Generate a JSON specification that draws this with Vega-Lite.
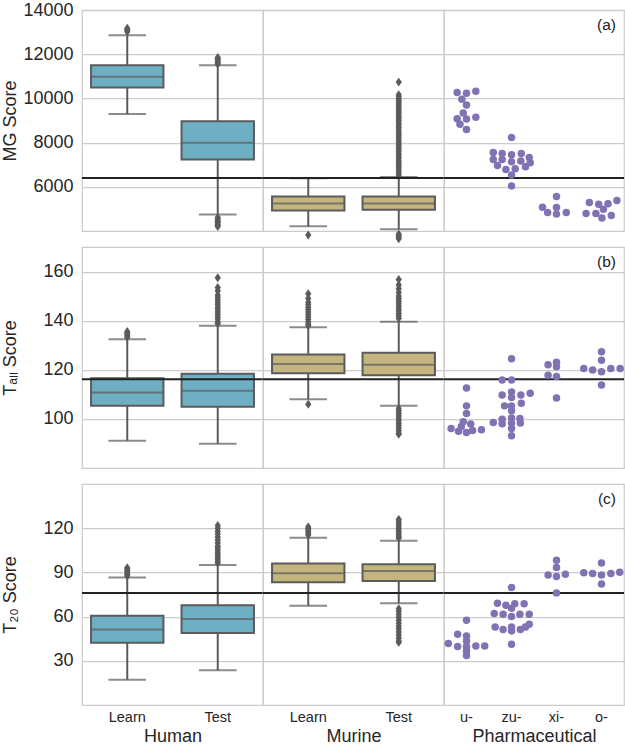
{
"$schema": "https://vega.github.io/schema/vega-lite/v6.json",
"padding": {"left": 0, "top": 0, "right": 0, "bottom": 0},
"background": "white",
"datasets": {
"box": [
{"m":"MG","g":"Human","set":"Learn","lo":9298,"q1":10494,"med":10988,"q3":11501,"hi":12862},
{"m":"MG","g":"Human","set":"Test","lo":4760,"q1":7245,"med":7995,"q3":8966,"hi":11501},
{"m":"MG","g":"Murine","set":"Learn","lo":4220,"q1":4939,"med":5254,"q3":5568,"hi":6391},
{"m":"MG","g":"Murine","set":"Test","lo":4085,"q1":4966,"med":5254,"q3":5568,"hi":6449},
{"m":"Tall","g":"Human","set":"Learn","lo":91.1,"q1":105.3,"med":110.7,"q3":116.5,"hi":132.4},
{"m":"Tall","g":"Human","set":"Test","lo":89.9,"q1":104.9,"med":111.5,"q3":118.4,"hi":137.9},
{"m":"Tall","g":"Murine","set":"Learn","lo":108.0,"q1":118.6,"med":122.4,"q3":126.2,"hi":137.3},
{"m":"Tall","g":"Murine","set":"Test","lo":105.3,"q1":117.8,"med":122.0,"q3":126.9,"hi":139.6},
{"m":"T20","g":"Human","set":"Learn","lo":17.2,"q1":42.2,"med":51.2,"q3":60.5,"hi":86.5},
{"m":"T20","g":"Human","set":"Test","lo":23.6,"q1":48.9,"med":58.4,"q3":67.7,"hi":95.1},
{"m":"T20","g":"Murine","set":"Learn","lo":67.3,"q1":83.3,"med":89.4,"q3":96.0,"hi":113.6},
{"m":"T20","g":"Murine","set":"Test","lo":69.1,"q1":84.2,"med":91.0,"q3":95.6,"hi":111.4}
],
"fl": [
{"m":"MG","g":"Human","set":"Learn","v":13020},{"m":"MG","g":"Human","set":"Learn","v":13080},{"m":"MG","g":"Human","set":"Learn","v":13130},{"m":"MG","g":"Human","set":"Learn","v":13180},
{"m":"MG","g":"Human","set":"Test","v":11560},{"m":"MG","g":"Human","set":"Test","v":11620},{"m":"MG","g":"Human","set":"Test","v":11680},{"m":"MG","g":"Human","set":"Test","v":11740},{"m":"MG","g":"Human","set":"Test","v":11800},{"m":"MG","g":"Human","set":"Test","v":11850},
{"m":"MG","g":"Human","set":"Test","v":4620},{"m":"MG","g":"Human","set":"Test","v":4560},{"m":"MG","g":"Human","set":"Test","v":4500},{"m":"MG","g":"Human","set":"Test","v":4440},{"m":"MG","g":"Human","set":"Test","v":4380},{"m":"MG","g":"Human","set":"Test","v":4320},{"m":"MG","g":"Human","set":"Test","v":4260},{"m":"MG","g":"Human","set":"Test","v":4210},
{"m":"MG","g":"Murine","set":"Learn","v":3830},
{"m":"MG","g":"Murine","set":"Test","v":10740},{"m":"MG","g":"Murine","set":"Test","v":10170},{"m":"MG","g":"Murine","set":"Test","v":10080},{"m":"MG","g":"Murine","set":"Test","v":9990},{"m":"MG","g":"Murine","set":"Test","v":9900},{"m":"MG","g":"Murine","set":"Test","v":9810},{"m":"MG","g":"Murine","set":"Test","v":9720},{"m":"MG","g":"Murine","set":"Test","v":9630},{"m":"MG","g":"Murine","set":"Test","v":9540},{"m":"MG","g":"Murine","set":"Test","v":9450},{"m":"MG","g":"Murine","set":"Test","v":9360},{"m":"MG","g":"Murine","set":"Test","v":9270},{"m":"MG","g":"Murine","set":"Test","v":9180},{"m":"MG","g":"Murine","set":"Test","v":9090},{"m":"MG","g":"Murine","set":"Test","v":9000},{"m":"MG","g":"Murine","set":"Test","v":8900},{"m":"MG","g":"Murine","set":"Test","v":8800},{"m":"MG","g":"Murine","set":"Test","v":8700},{"m":"MG","g":"Murine","set":"Test","v":8600},{"m":"MG","g":"Murine","set":"Test","v":8500},{"m":"MG","g":"Murine","set":"Test","v":8400},{"m":"MG","g":"Murine","set":"Test","v":8300},{"m":"MG","g":"Murine","set":"Test","v":8200},{"m":"MG","g":"Murine","set":"Test","v":8100},{"m":"MG","g":"Murine","set":"Test","v":8000},{"m":"MG","g":"Murine","set":"Test","v":7900},{"m":"MG","g":"Murine","set":"Test","v":7800},{"m":"MG","g":"Murine","set":"Test","v":7700},{"m":"MG","g":"Murine","set":"Test","v":7600},{"m":"MG","g":"Murine","set":"Test","v":7500},{"m":"MG","g":"Murine","set":"Test","v":7400},{"m":"MG","g":"Murine","set":"Test","v":7300},{"m":"MG","g":"Murine","set":"Test","v":7200},{"m":"MG","g":"Murine","set":"Test","v":7100},{"m":"MG","g":"Murine","set":"Test","v":7000},{"m":"MG","g":"Murine","set":"Test","v":6900},{"m":"MG","g":"Murine","set":"Test","v":6800},{"m":"MG","g":"Murine","set":"Test","v":6700},{"m":"MG","g":"Murine","set":"Test","v":6600},{"m":"MG","g":"Murine","set":"Test","v":6500},
{"m":"MG","g":"Murine","set":"Test","v":3870},{"m":"MG","g":"Murine","set":"Test","v":3800},{"m":"MG","g":"Murine","set":"Test","v":3730},{"m":"MG","g":"Murine","set":"Test","v":3660},
{"m":"Tall","g":"Human","set":"Learn","v":133.2},{"m":"Tall","g":"Human","set":"Learn","v":133.8},{"m":"Tall","g":"Human","set":"Learn","v":134.4},{"m":"Tall","g":"Human","set":"Learn","v":135.0},{"m":"Tall","g":"Human","set":"Learn","v":135.6},
{"m":"Tall","g":"Human","set":"Test","v":157.5},{"m":"Tall","g":"Human","set":"Test","v":153.5},{"m":"Tall","g":"Human","set":"Test","v":152.2},{"m":"Tall","g":"Human","set":"Test","v":150.5},{"m":"Tall","g":"Human","set":"Test","v":149.5},{"m":"Tall","g":"Human","set":"Test","v":148.5},{"m":"Tall","g":"Human","set":"Test","v":147.5},{"m":"Tall","g":"Human","set":"Test","v":146.5},{"m":"Tall","g":"Human","set":"Test","v":145.5},{"m":"Tall","g":"Human","set":"Test","v":144.5},{"m":"Tall","g":"Human","set":"Test","v":143.5},{"m":"Tall","g":"Human","set":"Test","v":142.5},{"m":"Tall","g":"Human","set":"Test","v":141.5},{"m":"Tall","g":"Human","set":"Test","v":140.5},{"m":"Tall","g":"Human","set":"Test","v":139.5},{"m":"Tall","g":"Human","set":"Test","v":138.7},
{"m":"Tall","g":"Murine","set":"Learn","v":151},{"m":"Tall","g":"Murine","set":"Learn","v":149},{"m":"Tall","g":"Murine","set":"Learn","v":147.5},{"m":"Tall","g":"Murine","set":"Learn","v":146.5},{"m":"Tall","g":"Murine","set":"Learn","v":145.5},{"m":"Tall","g":"Murine","set":"Learn","v":144.5},{"m":"Tall","g":"Murine","set":"Learn","v":143.5},{"m":"Tall","g":"Murine","set":"Learn","v":142.5},{"m":"Tall","g":"Murine","set":"Learn","v":141.5},{"m":"Tall","g":"Murine","set":"Learn","v":140.5},{"m":"Tall","g":"Murine","set":"Learn","v":139.5},{"m":"Tall","g":"Murine","set":"Learn","v":138.5},{"m":"Tall","g":"Murine","set":"Learn","v":137.9},{"m":"Tall","g":"Murine","set":"Learn","v":106.0},
{"m":"Tall","g":"Murine","set":"Test","v":156.8},{"m":"Tall","g":"Murine","set":"Test","v":154.5},{"m":"Tall","g":"Murine","set":"Test","v":153},{"m":"Tall","g":"Murine","set":"Test","v":151.5},{"m":"Tall","g":"Murine","set":"Test","v":150},{"m":"Tall","g":"Murine","set":"Test","v":149},{"m":"Tall","g":"Murine","set":"Test","v":148},{"m":"Tall","g":"Murine","set":"Test","v":147},{"m":"Tall","g":"Murine","set":"Test","v":146},{"m":"Tall","g":"Murine","set":"Test","v":145},{"m":"Tall","g":"Murine","set":"Test","v":144},{"m":"Tall","g":"Murine","set":"Test","v":143},{"m":"Tall","g":"Murine","set":"Test","v":142},{"m":"Tall","g":"Murine","set":"Test","v":141},
{"m":"Tall","g":"Murine","set":"Test","v":104.2},{"m":"Tall","g":"Murine","set":"Test","v":103.2},{"m":"Tall","g":"Murine","set":"Test","v":102.2},{"m":"Tall","g":"Murine","set":"Test","v":101.2},{"m":"Tall","g":"Murine","set":"Test","v":100.2},{"m":"Tall","g":"Murine","set":"Test","v":99.2},{"m":"Tall","g":"Murine","set":"Test","v":98.2},{"m":"Tall","g":"Murine","set":"Test","v":97.2},{"m":"Tall","g":"Murine","set":"Test","v":96.2},{"m":"Tall","g":"Murine","set":"Test","v":95.2},{"m":"Tall","g":"Murine","set":"Test","v":94.2},{"m":"Tall","g":"Murine","set":"Test","v":93.7},
{"m":"T20","g":"Human","set":"Learn","v":87.5},{"m":"T20","g":"Human","set":"Learn","v":88.5},{"m":"T20","g":"Human","set":"Learn","v":89.5},{"m":"T20","g":"Human","set":"Learn","v":90.5},{"m":"T20","g":"Human","set":"Learn","v":91.5},{"m":"T20","g":"Human","set":"Learn","v":92.5},{"m":"T20","g":"Human","set":"Learn","v":93.1},
{"m":"T20","g":"Human","set":"Test","v":121.9},{"m":"T20","g":"Human","set":"Test","v":120},{"m":"T20","g":"Human","set":"Test","v":118},{"m":"T20","g":"Human","set":"Test","v":116},{"m":"T20","g":"Human","set":"Test","v":114},{"m":"T20","g":"Human","set":"Test","v":112},{"m":"T20","g":"Human","set":"Test","v":110},{"m":"T20","g":"Human","set":"Test","v":108},{"m":"T20","g":"Human","set":"Test","v":106.5},{"m":"T20","g":"Human","set":"Test","v":105},{"m":"T20","g":"Human","set":"Test","v":103.5},{"m":"T20","g":"Human","set":"Test","v":102},{"m":"T20","g":"Human","set":"Test","v":100.5},{"m":"T20","g":"Human","set":"Test","v":99},{"m":"T20","g":"Human","set":"Test","v":97.5},{"m":"T20","g":"Human","set":"Test","v":96.4},
{"m":"T20","g":"Murine","set":"Learn","v":115.4},{"m":"T20","g":"Murine","set":"Learn","v":116.6},{"m":"T20","g":"Murine","set":"Learn","v":117.8},{"m":"T20","g":"Murine","set":"Learn","v":119},{"m":"T20","g":"Murine","set":"Learn","v":120},{"m":"T20","g":"Murine","set":"Learn","v":120.9},
{"m":"T20","g":"Murine","set":"Test","v":126},{"m":"T20","g":"Murine","set":"Test","v":124.5},{"m":"T20","g":"Murine","set":"Test","v":123},{"m":"T20","g":"Murine","set":"Test","v":121.5},{"m":"T20","g":"Murine","set":"Test","v":120},{"m":"T20","g":"Murine","set":"Test","v":118.5},{"m":"T20","g":"Murine","set":"Test","v":117},{"m":"T20","g":"Murine","set":"Test","v":115.5},{"m":"T20","g":"Murine","set":"Test","v":114},{"m":"T20","g":"Murine","set":"Test","v":113.4},
{"m":"T20","g":"Murine","set":"Test","v":65.4},{"m":"T20","g":"Murine","set":"Test","v":63.5},{"m":"T20","g":"Murine","set":"Test","v":61.5},{"m":"T20","g":"Murine","set":"Test","v":59.5},{"m":"T20","g":"Murine","set":"Test","v":57.5},{"m":"T20","g":"Murine","set":"Test","v":55.5},{"m":"T20","g":"Murine","set":"Test","v":53.5},{"m":"T20","g":"Murine","set":"Test","v":51.5},{"m":"T20","g":"Murine","set":"Test","v":49.5},{"m":"T20","g":"Murine","set":"Test","v":47.5},{"m":"T20","g":"Murine","set":"Test","v":45.5},{"m":"T20","g":"Murine","set":"Test","v":43.5},{"m":"T20","g":"Murine","set":"Test","v":42.5}
],
"ph": [
{"m":"MG","c":"u-","o":-2,"v":10271},{"m":"MG","c":"u-","o":0,"v":10241},{"m":"MG","c":"u-","o":2,"v":10331},{"m":"MG","c":"u-","o":-1,"v":9971},{"m":"MG","c":"u-","o":0,"v":9702},{"m":"MG","c":"u-","o":-0.7,"v":9342},{"m":"MG","c":"u-","o":-2,"v":9087},{"m":"MG","c":"u-","o":0,"v":9073},{"m":"MG","c":"u-","o":2,"v":9147},{"m":"MG","c":"u-","o":-1.4,"v":8832},{"m":"MG","c":"u-","o":0,"v":8593},
{"m":"MG","c":"zu-","o":0,"v":8234},{"m":"MG","c":"zu-","o":-3.9,"v":7559},{"m":"MG","c":"zu-","o":-2,"v":7514},{"m":"MG","c":"zu-","o":0,"v":7455},{"m":"MG","c":"zu-","o":2.1,"v":7514},{"m":"MG","c":"zu-","o":3.8,"v":7335},{"m":"MG","c":"zu-","o":-3.9,"v":7245},{"m":"MG","c":"zu-","o":-2,"v":7245},{"m":"MG","c":"zu-","o":0,"v":7140},{"m":"MG","c":"zu-","o":2,"v":7170},{"m":"MG","c":"zu-","o":4,"v":7095},{"m":"MG","c":"zu-","o":-3,"v":6975},{"m":"MG","c":"zu-","o":-1.2,"v":6795},{"m":"MG","c":"zu-","o":0.8,"v":6825},{"m":"MG","c":"zu-","o":3,"v":6915},{"m":"MG","c":"zu-","o":0,"v":6541},{"m":"MG","c":"zu-","o":0,"v":6046},
{"m":"MG","c":"xi-","o":0,"v":5567},{"m":"MG","c":"xi-","o":-3,"v":5088},{"m":"MG","c":"xi-","o":0,"v":5073},{"m":"MG","c":"xi-","o":-1.9,"v":4848},{"m":"MG","c":"xi-","o":0,"v":4773},{"m":"MG","c":"xi-","o":2.1,"v":4848},
{"m":"MG","c":"o-","o":-2.6,"v":5298},{"m":"MG","c":"o-","o":-0.6,"v":5223},{"m":"MG","c":"o-","o":1.4,"v":5238},{"m":"MG","c":"o-","o":3.3,"v":5387},{"m":"MG","c":"o-","o":0.4,"v":4998},{"m":"MG","c":"o-","o":-3.3,"v":4803},{"m":"MG","c":"o-","o":-1.2,"v":4803},{"m":"MG","c":"o-","o":2.1,"v":4713},{"m":"MG","c":"o-","o":0.1,"v":4593},
{"m":"Tall","c":"u-","o":0,"v":112.6},{"m":"Tall","c":"u-","o":0,"v":105.3},{"m":"Tall","c":"u-","o":0,"v":102.2},{"m":"Tall","c":"u-","o":-0.7,"v":98.8},{"m":"Tall","c":"u-","o":0.9,"v":97.9},{"m":"Tall","c":"u-","o":-3.3,"v":96.1},{"m":"Tall","c":"u-","o":-1.7,"v":95.0},{"m":"Tall","c":"u-","o":0,"v":94.5},{"m":"Tall","c":"u-","o":1.3,"v":95.3},{"m":"Tall","c":"u-","o":3.2,"v":95.6},{"m":"Tall","c":"u-","o":-1.1,"v":96.9},
{"m":"Tall","c":"zu-","o":0,"v":124.5},{"m":"Tall","c":"zu-","o":-2,"v":115.8},{"m":"Tall","c":"zu-","o":0,"v":115.8},{"m":"Tall","c":"zu-","o":-2,"v":109.7},{"m":"Tall","c":"zu-","o":0,"v":111.0},{"m":"Tall","c":"zu-","o":0,"v":108.7},{"m":"Tall","c":"zu-","o":2,"v":109.7},{"m":"Tall","c":"zu-","o":4,"v":110.4},{"m":"Tall","c":"zu-","o":-1.5,"v":105.3},{"m":"Tall","c":"zu-","o":0,"v":105.3},{"m":"Tall","c":"zu-","o":2.1,"v":106.4},{"m":"Tall","c":"zu-","o":0,"v":103.3},{"m":"Tall","c":"zu-","o":-2,"v":99.9},{"m":"Tall","c":"zu-","o":0,"v":100.4},{"m":"Tall","c":"zu-","o":1.8,"v":100.2},{"m":"Tall","c":"zu-","o":-3.9,"v":98.5},{"m":"Tall","c":"zu-","o":-2,"v":98.0},{"m":"Tall","c":"zu-","o":0,"v":98.3},{"m":"Tall","c":"zu-","o":1.9,"v":98.3},{"m":"Tall","c":"zu-","o":0,"v":96.1},{"m":"Tall","c":"zu-","o":0,"v":93.1},
{"m":"Tall","c":"xi-","o":-1.8,"v":122.0},{"m":"Tall","c":"xi-","o":0,"v":123.1},{"m":"Tall","c":"xi-","o":0,"v":121.2},{"m":"Tall","c":"xi-","o":-1.8,"v":117.8},{"m":"Tall","c":"xi-","o":0,"v":117.3},{"m":"Tall","c":"xi-","o":0,"v":108.5},
{"m":"Tall","c":"o-","o":0,"v":127.3},{"m":"Tall","c":"o-","o":0,"v":123.9},{"m":"Tall","c":"o-","o":-3.8,"v":120.5},{"m":"Tall","c":"o-","o":-1.9,"v":119.9},{"m":"Tall","c":"o-","o":0,"v":119.2},{"m":"Tall","c":"o-","o":2,"v":120.5},{"m":"Tall","c":"o-","o":4,"v":120.5},{"m":"Tall","c":"o-","o":0,"v":113.8},
{"m":"T20","c":"u-","o":0,"v":57.5},{"m":"T20","c":"u-","o":-1.9,"v":48.0},{"m":"T20","c":"u-","o":0,"v":46.9},{"m":"T20","c":"u-","o":0,"v":43.5},{"m":"T20","c":"u-","o":-3.9,"v":41.7},{"m":"T20","c":"u-","o":-1.9,"v":39.7},{"m":"T20","c":"u-","o":0,"v":39.7},{"m":"T20","c":"u-","o":2,"v":40.1},{"m":"T20","c":"u-","o":3.9,"v":40.1},{"m":"T20","c":"u-","o":0,"v":36.7},{"m":"T20","c":"u-","o":0,"v":33.6},
{"m":"T20","c":"zu-","o":0,"v":79.7},{"m":"T20","c":"zu-","o":-3,"v":69.1},{"m":"T20","c":"zu-","o":-1.2,"v":67.7},{"m":"T20","c":"zu-","o":0.7,"v":68.8},{"m":"T20","c":"zu-","o":2.7,"v":68.8},{"m":"T20","c":"zu-","o":0,"v":65.7},{"m":"T20","c":"zu-","o":-3.7,"v":62.1},{"m":"T20","c":"zu-","o":-1.8,"v":61.6},{"m":"T20","c":"zu-","o":0,"v":60.0},{"m":"T20","c":"zu-","o":1.8,"v":61.6},{"m":"T20","c":"zu-","o":3.8,"v":61.6},{"m":"T20","c":"zu-","o":-3.5,"v":53.0},{"m":"T20","c":"zu-","o":-1.8,"v":51.2},{"m":"T20","c":"zu-","o":0,"v":53.0},{"m":"T20","c":"zu-","o":0,"v":50.3},{"m":"T20","c":"zu-","o":1.9,"v":51.2},{"m":"T20","c":"zu-","o":3.8,"v":54.8},{"m":"T20","c":"zu-","o":3,"v":53.0},{"m":"T20","c":"zu-","o":0,"v":41.2},
{"m":"T20","c":"xi-","o":0,"v":98.3},{"m":"T20","c":"xi-","o":0,"v":93.3},{"m":"T20","c":"xi-","o":-1.8,"v":88.3},{"m":"T20","c":"xi-","o":0,"v":87.2},{"m":"T20","c":"xi-","o":1.9,"v":88.8},{"m":"T20","c":"xi-","o":0,"v":76.1},
{"m":"T20","c":"o-","o":0,"v":96.4},{"m":"T20","c":"o-","o":-3.8,"v":89.7},{"m":"T20","c":"o-","o":-1.9,"v":89.2},{"m":"T20","c":"o-","o":0,"v":88.3},{"m":"T20","c":"o-","o":2,"v":89.2},{"m":"T20","c":"o-","o":3.9,"v":90.1},{"m":"T20","c":"o-","o":0,"v":82.2}
],
"thr": [{"m":"MG","v":6404},{"m":"Tall","v":116.1},{"m":"T20","v":76.1}],
"lab": [{"m":"MG","t":"(a)","top":14000},{"m":"Tall","t":"(b)","top":170},{"m":"T20","t":"(c)","top":150}]
},
"columns": 3,
"spacing": {"row": 16, "column": 0},
"bounds": "flush",
"concat": [
{"width":181,"height":221,"layer":[
{"data":{"name":"box"},"transform":[{"filter":"datum.m==='MG'&&datum.g==='Human'"}],"mark":{"type":"rule","color":"#5b5b5b","strokeWidth":2},
 "encoding":{"x":{"field":"set","type":"nominal","scale":{"type":"band","domain":["Learn","Test"],"paddingInner":0,"paddingOuter":0},"axis":null},
 "y":{"field":"lo","type":"quantitative","scale":{"domain":[4010,14000],"nice":false,"zero":false},"axis":{"title":"MG Score","format":"d","values":[6000,8000,10000,12000,14000]}},"y2":{"field":"hi"}}},
{"data":{"name":"box"},"transform":[{"filter":"datum.m==='MG'&&datum.g==='Human'"}],"mark":{"type":"tick","color":"#5b5b5b","thickness":2,"size":37.6},
 "encoding":{"x":{"field":"set","type":"nominal","axis":null},"y":{"field":"lo","type":"quantitative"}}},
{"data":{"name":"box"},"transform":[{"filter":"datum.m==='MG'&&datum.g==='Human'"}],"mark":{"type":"tick","color":"#5b5b5b","thickness":2,"size":37.6},
 "encoding":{"x":{"field":"set","type":"nominal","axis":null},"y":{"field":"hi","type":"quantitative"}}},
{"data":{"name":"box"},"transform":[{"filter":"datum.m==='MG'&&datum.g==='Human'"}],"mark":{"type":"bar","fill":"#6eafc3","stroke":"#5b5b5b","strokeWidth":2,"size":72.4},
 "encoding":{"x":{"field":"set","type":"nominal","axis":null},"y":{"field":"q1","type":"quantitative"},"y2":{"field":"q3"}}},
{"data":{"name":"box"},"transform":[{"filter":"datum.m==='MG'&&datum.g==='Human'"}],"mark":{"type":"tick","color":"#5b5b5b","thickness":2,"size":72.4},
 "encoding":{"x":{"field":"set","type":"nominal","axis":null},"y":{"field":"med","type":"quantitative"}}},
{"data":{"name":"fl"},"transform":[{"filter":"datum.m==='MG'&&datum.g==='Human'"}],"mark":{"type":"point","shape":"M0,-1L0.7,0L0,1L-0.7,0Z","size":80,"filled":true,"color":"#5b5b5b","opacity":1},
 "encoding":{"x":{"field":"set","type":"nominal","axis":null},"y":{"field":"v","type":"quantitative"}}},
{"data":{"name":"thr"},"transform":[{"filter":"datum.m==='MG'"}],"mark":{"type":"rule","color":"#222222","strokeWidth":2},
 "encoding":{"y":{"field":"v","type":"quantitative"}}}
]},
{"width":181,"height":221,"layer":[
{"data":{"name":"box"},"transform":[{"filter":"datum.m==='MG'&&datum.g==='Murine'"}],"mark":{"type":"rule","color":"#5b5b5b","strokeWidth":2},
 "encoding":{"x":{"field":"set","type":"nominal","scale":{"type":"band","domain":["Learn","Test"],"paddingInner":0,"paddingOuter":0},"axis":null},
 "y":{"field":"lo","type":"quantitative","scale":{"domain":[4010,14000],"nice":false,"zero":false},"axis":{"labels":false,"title":null,"values":[6000,8000,10000,12000,14000],"minExtent":0,"maxExtent":0}},"y2":{"field":"hi"}}},
{"data":{"name":"box"},"transform":[{"filter":"datum.m==='MG'&&datum.g==='Murine'"}],"mark":{"type":"tick","color":"#5b5b5b","thickness":2,"size":37.6},
 "encoding":{"x":{"field":"set","type":"nominal","axis":null},"y":{"field":"lo","type":"quantitative"}}},
{"data":{"name":"box"},"transform":[{"filter":"datum.m==='MG'&&datum.g==='Murine'"}],"mark":{"type":"tick","color":"#5b5b5b","thickness":2,"size":37.6},
 "encoding":{"x":{"field":"set","type":"nominal","axis":null},"y":{"field":"hi","type":"quantitative"}}},
{"data":{"name":"box"},"transform":[{"filter":"datum.m==='MG'&&datum.g==='Murine'"}],"mark":{"type":"bar","fill":"#c4b47e","stroke":"#5b5b5b","strokeWidth":2,"size":72.4},
 "encoding":{"x":{"field":"set","type":"nominal","axis":null},"y":{"field":"q1","type":"quantitative"},"y2":{"field":"q3"}}},
{"data":{"name":"box"},"transform":[{"filter":"datum.m==='MG'&&datum.g==='Murine'"}],"mark":{"type":"tick","color":"#5b5b5b","thickness":2,"size":72.4},
 "encoding":{"x":{"field":"set","type":"nominal","axis":null},"y":{"field":"med","type":"quantitative"}}},
{"data":{"name":"fl"},"transform":[{"filter":"datum.m==='MG'&&datum.g==='Murine'"}],"mark":{"type":"point","shape":"M0,-1L0.7,0L0,1L-0.7,0Z","size":80,"filled":true,"color":"#5b5b5b","opacity":1},
 "encoding":{"x":{"field":"set","type":"nominal","axis":null},"y":{"field":"v","type":"quantitative"}}},
{"data":{"name":"thr"},"transform":[{"filter":"datum.m==='MG'"}],"mark":{"type":"rule","color":"#222222","strokeWidth":2},
 "encoding":{"y":{"field":"v","type":"quantitative"}}}
]},
{"width":180,"height":221,
 "layer":[
{"data":{"name":"thr"},"transform":[{"filter":"datum.m==='MG'"}],"mark":{"type":"rule","color":"#222222","strokeWidth":2},
 "encoding":{"y":{"field":"v","type":"quantitative","scale":{"domain":[4010,14000],"nice":false,"zero":false},"axis":{"labels":false,"title":null,"values":[6000,8000,10000,12000,14000],"minExtent":0,"maxExtent":0}}}},
{"data":{"name":"ph"},"transform":[{"filter":"datum.m==='MG'"}],"mark":{"type":"circle","color":"#8172b3","size":56,"opacity":1},
 "encoding":{"x":{"field":"c","type":"nominal","scale":{"type":"band","domain":["u-","zu-","xi-","o-"],"paddingInner":0,"paddingOuter":0},"axis":null},
 "xOffset":{"field":"o","type":"quantitative","scale":{"domain":[-4.82,4.82]}},
 "y":{"field":"v","type":"quantitative"}}},
{"data":{"name":"lab"},"transform":[{"filter":"datum.m==='MG'"}],"mark":{"type":"text","align":"right","baseline":"top","dx":-8,"dy":8,"fontSize":15.5,"color":"#222222"},
 "encoding":{"x":{"datum":"o-","type":"nominal","bandPosition":1,"axis":null},"y":{"field":"top","type":"quantitative"},"text":{"field":"t"}}}
]},
{"width":181,"height":221,"layer":[
{"data":{"name":"box"},"transform":[{"filter":"datum.m==='Tall'&&datum.g==='Human'"}],"mark":{"type":"rule","color":"#5b5b5b","strokeWidth":2},
 "encoding":{"x":{"field":"set","type":"nominal","scale":{"type":"band","domain":["Learn","Test"],"paddingInner":0,"paddingOuter":0},"axis":null},
 "y":{"field":"lo","type":"quantitative","scale":{"domain":[80,170],"nice":false,"zero":false},"axis":{"title":"Tₐₗₗ Score","format":"d","values":[100,120,140,160]}},"y2":{"field":"hi"}}},
{"data":{"name":"box"},"transform":[{"filter":"datum.m==='Tall'&&datum.g==='Human'"}],"mark":{"type":"tick","color":"#5b5b5b","thickness":2,"size":37.6},
 "encoding":{"x":{"field":"set","type":"nominal","axis":null},"y":{"field":"lo","type":"quantitative"}}},
{"data":{"name":"box"},"transform":[{"filter":"datum.m==='Tall'&&datum.g==='Human'"}],"mark":{"type":"tick","color":"#5b5b5b","thickness":2,"size":37.6},
 "encoding":{"x":{"field":"set","type":"nominal","axis":null},"y":{"field":"hi","type":"quantitative"}}},
{"data":{"name":"box"},"transform":[{"filter":"datum.m==='Tall'&&datum.g==='Human'"}],"mark":{"type":"bar","fill":"#6eafc3","stroke":"#5b5b5b","strokeWidth":2,"size":72.4},
 "encoding":{"x":{"field":"set","type":"nominal","axis":null},"y":{"field":"q1","type":"quantitative"},"y2":{"field":"q3"}}},
{"data":{"name":"box"},"transform":[{"filter":"datum.m==='Tall'&&datum.g==='Human'"}],"mark":{"type":"tick","color":"#5b5b5b","thickness":2,"size":72.4},
 "encoding":{"x":{"field":"set","type":"nominal","axis":null},"y":{"field":"med","type":"quantitative"}}},
{"data":{"name":"fl"},"transform":[{"filter":"datum.m==='Tall'&&datum.g==='Human'"}],"mark":{"type":"point","shape":"M0,-1L0.7,0L0,1L-0.7,0Z","size":80,"filled":true,"color":"#5b5b5b","opacity":1},
 "encoding":{"x":{"field":"set","type":"nominal","axis":null},"y":{"field":"v","type":"quantitative"}}},
{"data":{"name":"thr"},"transform":[{"filter":"datum.m==='Tall'"}],"mark":{"type":"rule","color":"#222222","strokeWidth":2},
 "encoding":{"y":{"field":"v","type":"quantitative"}}}
]},
{"width":181,"height":221,"layer":[
{"data":{"name":"box"},"transform":[{"filter":"datum.m==='Tall'&&datum.g==='Murine'"}],"mark":{"type":"rule","color":"#5b5b5b","strokeWidth":2},
 "encoding":{"x":{"field":"set","type":"nominal","scale":{"type":"band","domain":["Learn","Test"],"paddingInner":0,"paddingOuter":0},"axis":null},
 "y":{"field":"lo","type":"quantitative","scale":{"domain":[80,170],"nice":false,"zero":false},"axis":{"labels":false,"title":null,"values":[100,120,140,160],"minExtent":0,"maxExtent":0}},"y2":{"field":"hi"}}},
{"data":{"name":"box"},"transform":[{"filter":"datum.m==='Tall'&&datum.g==='Murine'"}],"mark":{"type":"tick","color":"#5b5b5b","thickness":2,"size":37.6},
 "encoding":{"x":{"field":"set","type":"nominal","axis":null},"y":{"field":"lo","type":"quantitative"}}},
{"data":{"name":"box"},"transform":[{"filter":"datum.m==='Tall'&&datum.g==='Murine'"}],"mark":{"type":"tick","color":"#5b5b5b","thickness":2,"size":37.6},
 "encoding":{"x":{"field":"set","type":"nominal","axis":null},"y":{"field":"hi","type":"quantitative"}}},
{"data":{"name":"box"},"transform":[{"filter":"datum.m==='Tall'&&datum.g==='Murine'"}],"mark":{"type":"bar","fill":"#c4b47e","stroke":"#5b5b5b","strokeWidth":2,"size":72.4},
 "encoding":{"x":{"field":"set","type":"nominal","axis":null},"y":{"field":"q1","type":"quantitative"},"y2":{"field":"q3"}}},
{"data":{"name":"box"},"transform":[{"filter":"datum.m==='Tall'&&datum.g==='Murine'"}],"mark":{"type":"tick","color":"#5b5b5b","thickness":2,"size":72.4},
 "encoding":{"x":{"field":"set","type":"nominal","axis":null},"y":{"field":"med","type":"quantitative"}}},
{"data":{"name":"fl"},"transform":[{"filter":"datum.m==='Tall'&&datum.g==='Murine'"}],"mark":{"type":"point","shape":"M0,-1L0.7,0L0,1L-0.7,0Z","size":80,"filled":true,"color":"#5b5b5b","opacity":1},
 "encoding":{"x":{"field":"set","type":"nominal","axis":null},"y":{"field":"v","type":"quantitative"}}},
{"data":{"name":"thr"},"transform":[{"filter":"datum.m==='Tall'"}],"mark":{"type":"rule","color":"#222222","strokeWidth":2},
 "encoding":{"y":{"field":"v","type":"quantitative"}}}
]},
{"width":180,"height":221,
 "layer":[
{"data":{"name":"thr"},"transform":[{"filter":"datum.m==='Tall'"}],"mark":{"type":"rule","color":"#222222","strokeWidth":2},
 "encoding":{"y":{"field":"v","type":"quantitative","scale":{"domain":[80,170],"nice":false,"zero":false},"axis":{"labels":false,"title":null,"values":[100,120,140,160],"minExtent":0,"maxExtent":0}}}},
{"data":{"name":"ph"},"transform":[{"filter":"datum.m==='Tall'"}],"mark":{"type":"circle","color":"#8172b3","size":56,"opacity":1},
 "encoding":{"x":{"field":"c","type":"nominal","scale":{"type":"band","domain":["u-","zu-","xi-","o-"],"paddingInner":0,"paddingOuter":0},"axis":null},
 "xOffset":{"field":"o","type":"quantitative","scale":{"domain":[-4.82,4.82]}},
 "y":{"field":"v","type":"quantitative"}}},
{"data":{"name":"lab"},"transform":[{"filter":"datum.m==='Tall'"}],"mark":{"type":"text","align":"right","baseline":"top","dx":-8,"dy":8,"fontSize":15.5,"color":"#222222"},
 "encoding":{"x":{"datum":"o-","type":"nominal","bandPosition":1,"axis":null},"y":{"field":"top","type":"quantitative"},"text":{"field":"t"}}}
]},
{"width":181,"height":221,"layer":[
{"data":{"name":"box"},"transform":[{"filter":"datum.m==='T20'&&datum.g==='Human'"}],"mark":{"type":"rule","color":"#5b5b5b","strokeWidth":2},
 "encoding":{"x":{"field":"set","type":"nominal","scale":{"type":"band","domain":["Learn","Test"],"paddingInner":0,"paddingOuter":0},"axis":{"title":"Human"}},
 "y":{"field":"lo","type":"quantitative","scale":{"domain":[0,150],"nice":false,"zero":false},"axis":{"title":"T₂₀ Score","format":"d","values":[30,60,90,120]}},"y2":{"field":"hi"}}},
{"data":{"name":"box"},"transform":[{"filter":"datum.m==='T20'&&datum.g==='Human'"}],"mark":{"type":"tick","color":"#5b5b5b","thickness":2,"size":37.6},
 "encoding":{"x":{"field":"set","type":"nominal"},"y":{"field":"lo","type":"quantitative"}}},
{"data":{"name":"box"},"transform":[{"filter":"datum.m==='T20'&&datum.g==='Human'"}],"mark":{"type":"tick","color":"#5b5b5b","thickness":2,"size":37.6},
 "encoding":{"x":{"field":"set","type":"nominal"},"y":{"field":"hi","type":"quantitative"}}},
{"data":{"name":"box"},"transform":[{"filter":"datum.m==='T20'&&datum.g==='Human'"}],"mark":{"type":"bar","fill":"#6eafc3","stroke":"#5b5b5b","strokeWidth":2,"size":72.4},
 "encoding":{"x":{"field":"set","type":"nominal"},"y":{"field":"q1","type":"quantitative"},"y2":{"field":"q3"}}},
{"data":{"name":"box"},"transform":[{"filter":"datum.m==='T20'&&datum.g==='Human'"}],"mark":{"type":"tick","color":"#5b5b5b","thickness":2,"size":72.4},
 "encoding":{"x":{"field":"set","type":"nominal"},"y":{"field":"med","type":"quantitative"}}},
{"data":{"name":"fl"},"transform":[{"filter":"datum.m==='T20'&&datum.g==='Human'"}],"mark":{"type":"point","shape":"M0,-1L0.7,0L0,1L-0.7,0Z","size":80,"filled":true,"color":"#5b5b5b","opacity":1},
 "encoding":{"x":{"field":"set","type":"nominal"},"y":{"field":"v","type":"quantitative"}}},
{"data":{"name":"thr"},"transform":[{"filter":"datum.m==='T20'"}],"mark":{"type":"rule","color":"#222222","strokeWidth":2},
 "encoding":{"y":{"field":"v","type":"quantitative"}}}
]},
{"width":181,"height":221,"layer":[
{"data":{"name":"box"},"transform":[{"filter":"datum.m==='T20'&&datum.g==='Murine'"}],"mark":{"type":"rule","color":"#5b5b5b","strokeWidth":2},
 "encoding":{"x":{"field":"set","type":"nominal","scale":{"type":"band","domain":["Learn","Test"],"paddingInner":0,"paddingOuter":0},"axis":{"title":"Murine"}},
 "y":{"field":"lo","type":"quantitative","scale":{"domain":[0,150],"nice":false,"zero":false},"axis":{"labels":false,"title":null,"values":[30,60,90,120],"minExtent":0,"maxExtent":0}},"y2":{"field":"hi"}}},
{"data":{"name":"box"},"transform":[{"filter":"datum.m==='T20'&&datum.g==='Murine'"}],"mark":{"type":"tick","color":"#5b5b5b","thickness":2,"size":37.6},
 "encoding":{"x":{"field":"set","type":"nominal"},"y":{"field":"lo","type":"quantitative"}}},
{"data":{"name":"box"},"transform":[{"filter":"datum.m==='T20'&&datum.g==='Murine'"}],"mark":{"type":"tick","color":"#5b5b5b","thickness":2,"size":37.6},
 "encoding":{"x":{"field":"set","type":"nominal"},"y":{"field":"hi","type":"quantitative"}}},
{"data":{"name":"box"},"transform":[{"filter":"datum.m==='T20'&&datum.g==='Murine'"}],"mark":{"type":"bar","fill":"#c4b47e","stroke":"#5b5b5b","strokeWidth":2,"size":72.4},
 "encoding":{"x":{"field":"set","type":"nominal"},"y":{"field":"q1","type":"quantitative"},"y2":{"field":"q3"}}},
{"data":{"name":"box"},"transform":[{"filter":"datum.m==='T20'&&datum.g==='Murine'"}],"mark":{"type":"tick","color":"#5b5b5b","thickness":2,"size":72.4},
 "encoding":{"x":{"field":"set","type":"nominal"},"y":{"field":"med","type":"quantitative"}}},
{"data":{"name":"fl"},"transform":[{"filter":"datum.m==='T20'&&datum.g==='Murine'"}],"mark":{"type":"point","shape":"M0,-1L0.7,0L0,1L-0.7,0Z","size":80,"filled":true,"color":"#5b5b5b","opacity":1},
 "encoding":{"x":{"field":"set","type":"nominal"},"y":{"field":"v","type":"quantitative"}}},
{"data":{"name":"thr"},"transform":[{"filter":"datum.m==='T20'"}],"mark":{"type":"rule","color":"#222222","strokeWidth":2},
 "encoding":{"y":{"field":"v","type":"quantitative"}}}
]},
{"width":180,"height":221,
 "layer":[
{"data":{"name":"thr"},"transform":[{"filter":"datum.m==='T20'"}],"mark":{"type":"rule","color":"#222222","strokeWidth":2},
 "encoding":{"y":{"field":"v","type":"quantitative","scale":{"domain":[0,150],"nice":false,"zero":false},"axis":{"labels":false,"title":null,"values":[30,60,90,120],"minExtent":0,"maxExtent":0}}}},
{"data":{"name":"ph"},"transform":[{"filter":"datum.m==='T20'"}],"mark":{"type":"circle","color":"#8172b3","size":56,"opacity":1},
 "encoding":{"x":{"field":"c","type":"nominal","scale":{"type":"band","domain":["u-","zu-","xi-","o-"],"paddingInner":0,"paddingOuter":0},"axis":{"title":"Pharmaceutical"}},
 "xOffset":{"field":"o","type":"quantitative","scale":{"domain":[-4.82,4.82]}},
 "y":{"field":"v","type":"quantitative"}}},
{"data":{"name":"lab"},"transform":[{"filter":"datum.m==='T20'"}],"mark":{"type":"text","align":"right","baseline":"top","dx":-8,"dy":8,"fontSize":15.5,"color":"#222222"},
 "encoding":{"x":{"datum":"o-","type":"nominal","bandPosition":1},"y":{"field":"top","type":"quantitative"},"text":{"field":"t"}}}
]}
],
"config": {
 "font": "Liberation Sans",
 "view": {"stroke": "#cccccc", "strokeWidth": 1.25},
 "axis": {"labelFont": "Liberation Sans", "titleFont": "Liberation Sans", "labelColor": "#262626", "titleColor": "#262626", "titleFontWeight": "normal", "ticks": false, "domain": false},
 "axisY": {"grid": true, "gridColor": "#cccccc", "gridWidth": 1.25, "labelFontSize": 18, "titleFontSize": 18, "labelPadding": 9, "titlePadding": 4, "minExtent": 59, "maxExtent": 59},
 "axisX": {"grid": false, "labelFontSize": 14.5, "titleFontSize": 18, "labelAngle": 0, "labelPadding": 5, "titlePadding": 4}
}
}
